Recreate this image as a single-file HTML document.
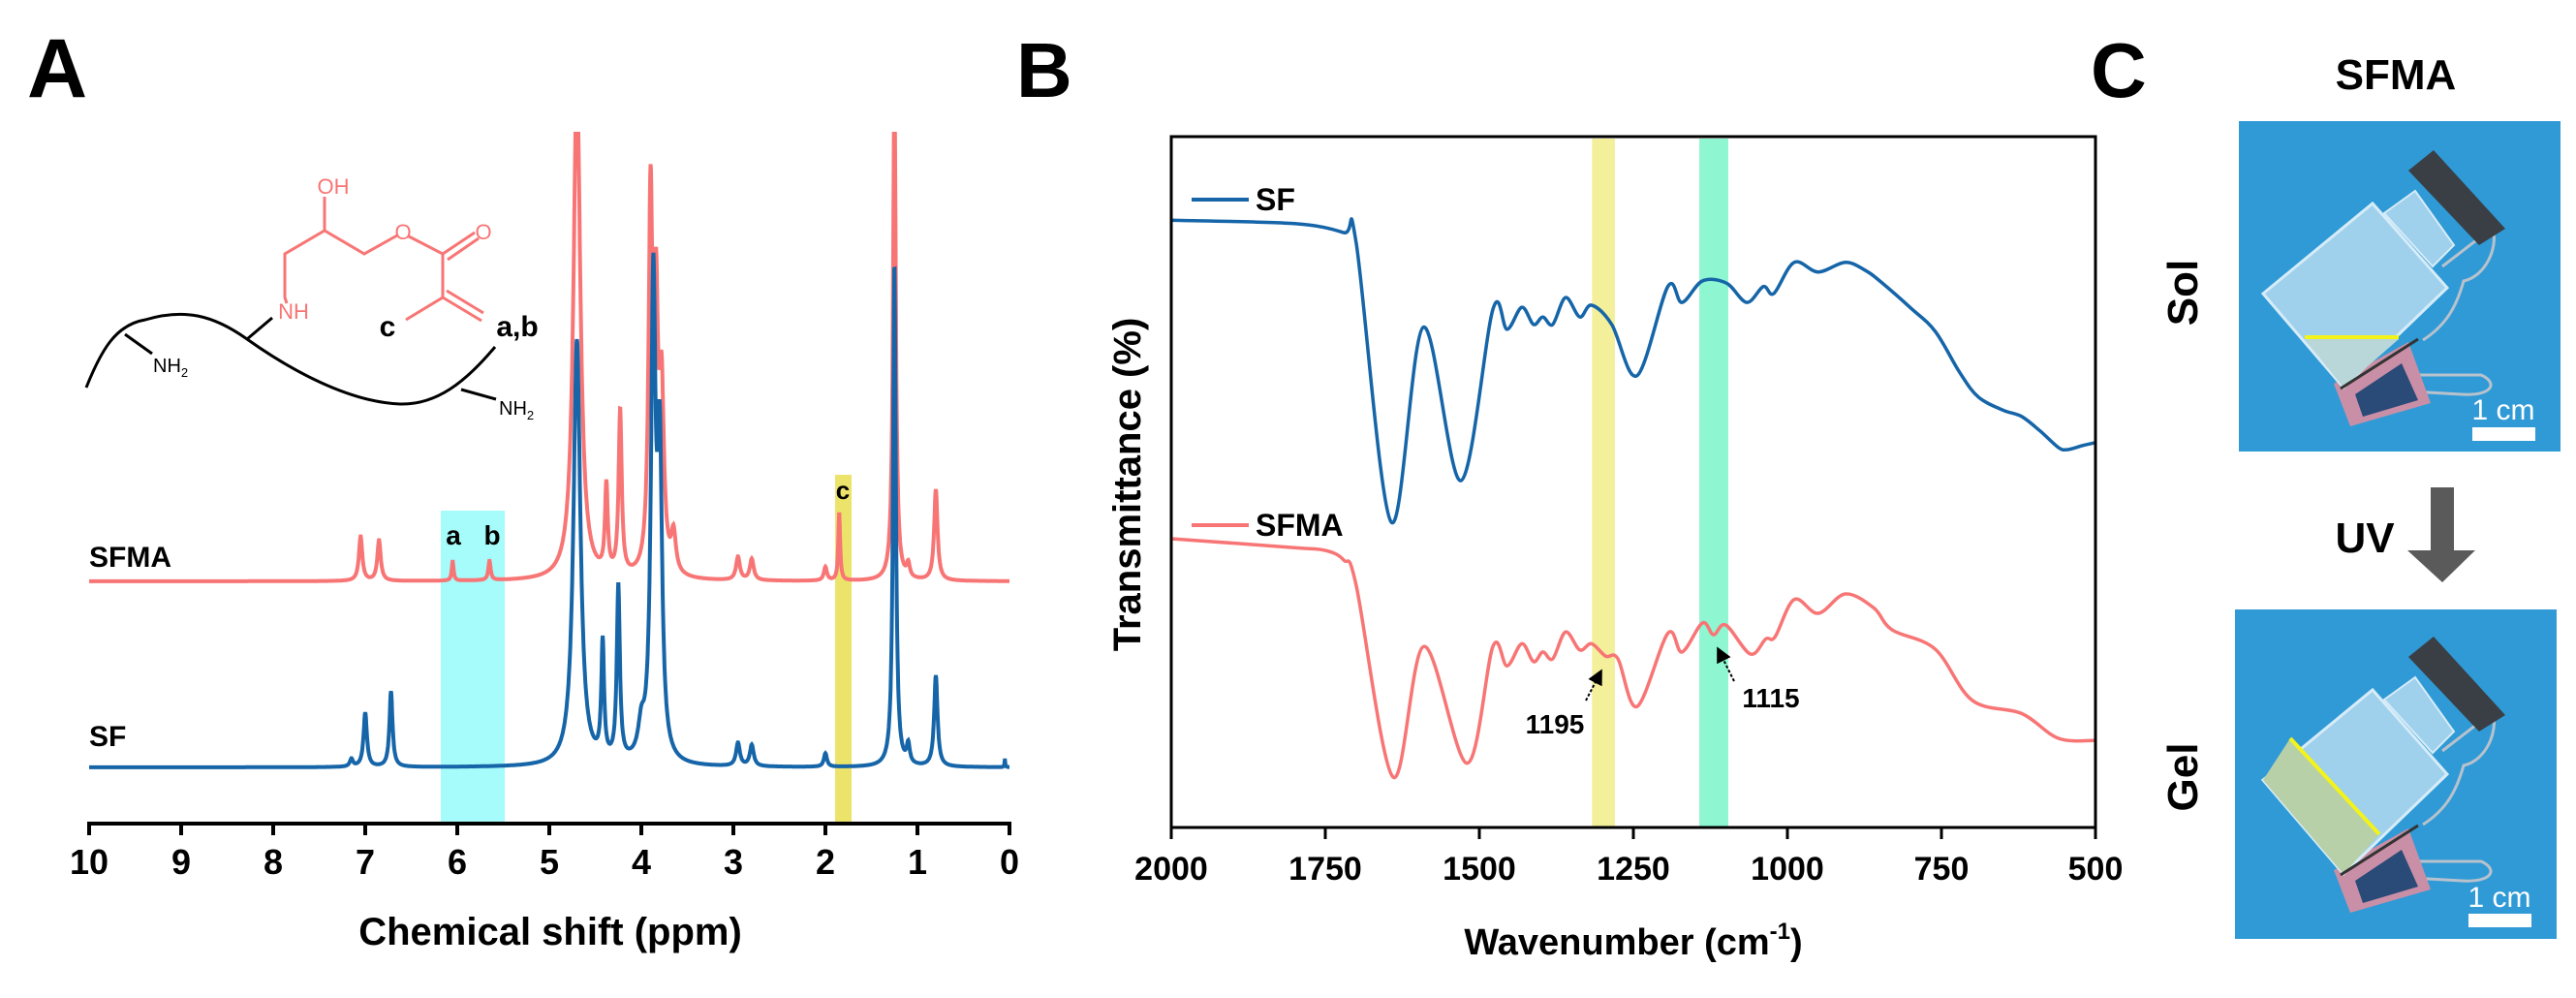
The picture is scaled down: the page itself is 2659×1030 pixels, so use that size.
<!DOCTYPE html>
<html><head><meta charset="utf-8"><style>
html,body{margin:0;padding:0;background:#fff;}
svg{display:block;font-family:"Liberation Sans",Arial,sans-serif;}
.b{font-weight:bold;}
</style></head><body>
<svg id="fig" width="2659" height="1030" viewBox="0 0 2659 1030" xmlns="http://www.w3.org/2000/svg">
<defs>
<clipPath id="clipA"><rect x="40" y="136" width="1020" height="714"/></clipPath>
<clipPath id="clipB"><rect x="1209" y="141" width="954" height="713"/></clipPath>
<clipPath id="ph1"><rect x="0" y="0" width="332" height="341"/></clipPath>
<marker id="ah" markerWidth="8" markerHeight="8" refX="6" refY="4" orient="auto"><path d="M0,0 L8,4 L0,8 z" fill="#000"/></marker>
</defs>

<!-- Panel A -->
<text x="28" y="100" class="b" font-size="86">A</text>
<rect x="455" y="527" width="66" height="323" fill="#a6fbfb"/>
<rect x="862" y="490" width="17" height="360" fill="#ece46a"/>
<g id="nmr" clip-path="url(#clipA)"></g>
<g id="axisA"></g>
<text x="568" y="975" text-anchor="middle" class="b" font-size="40">Chemical shift (ppm)</text>
<text x="92" y="585" class="b" font-size="30">SFMA</text>
<text x="92" y="770" class="b" font-size="30">SF</text>
<text x="468" y="562" text-anchor="middle" class="b" font-size="28">a</text>
<text x="508" y="562" text-anchor="middle" class="b" font-size="28">b</text>
<text x="870" y="515" text-anchor="middle" class="b" font-size="26">c</text>

<!-- structure -->
<g fill="none" stroke-width="3">
<g stroke="#f87575">
<polyline points="296,313 294,307 294,262 335,238 376,262 410,243"/>
<line x1="335" y1="238" x2="335" y2="203"/>
<polyline points="422,244 457,262 457,307 419,330"/>
<line x1="457" y1="262" x2="490" y2="240"/>
<line x1="462" y1="268" x2="494" y2="246"/>
<line x1="457" y1="307" x2="497" y2="331"/>
<line x1="461" y1="300" x2="499" y2="323"/>
</g>
<g stroke="#000">
<path d="M89,400 C105,360 120,335 150,330 C190,318 220,325 255,350 C300,382 360,415 413,417 C450,418 480,395 511,358"/>
<line x1="281" y1="328" x2="255" y2="350"/>
<line x1="129" y1="345" x2="157" y2="365"/>
<line x1="476" y1="402" x2="512" y2="412"/>
</g>
</g>
<g font-size="22" fill="#f87575">
<text x="344" y="200" text-anchor="middle">OH</text>
<text x="416" y="247" text-anchor="middle">O</text>
<text x="499" y="247" text-anchor="middle">O</text>
<text x="303" y="329" text-anchor="middle">NH</text>
</g>
<text x="158" y="384" font-size="20">NH<tspan font-size="13" dy="5">2</tspan></text>
<text x="515" y="428" font-size="20">NH<tspan font-size="13" dy="5">2</tspan></text>
<text x="400" y="347" text-anchor="middle" class="b" font-size="30">c</text>
<text x="534" y="347" text-anchor="middle" class="b" font-size="30">a,b</text>

<!-- Panel B -->
<text x="1049" y="100" class="b" font-size="80">B</text>
<g id="irBands"></g>
<g id="ir" clip-path="url(#clipB)"></g>
<rect x="1209" y="141" width="954" height="713" fill="none" stroke="#000" stroke-width="3"/>
<g id="axisB"></g>
<text x="1686" y="985" text-anchor="middle" class="b" font-size="38">Wavenumber (cm<tspan font-size="24" dy="-16">-1</tspan><tspan dy="16">)</tspan></text>
<text transform="translate(1177,500) rotate(-90)" text-anchor="middle" class="b" font-size="40">Transmittance (%)</text>
<line x1="1230" y1="206" x2="1289" y2="206" stroke="#1565a8" stroke-width="4"/>
<text x="1296" y="217" class="b" font-size="32">SF</text>
<line x1="1230" y1="542" x2="1289" y2="542" stroke="#f87575" stroke-width="4"/>
<text x="1296" y="553" class="b" font-size="32">SFMA</text>
<line x1="1637" y1="723" x2="1652" y2="694" stroke="#000" stroke-width="2" stroke-dasharray="3,2" marker-end="url(#ah)"/>
<text x="1605" y="757" text-anchor="middle" class="b" font-size="28">1195</text>
<line x1="1790" y1="703" x2="1774" y2="671" stroke="#000" stroke-width="2" stroke-dasharray="3,2" marker-end="url(#ah)"/>
<text x="1828" y="730" text-anchor="middle" class="b" font-size="28">1115</text>

<!-- Panel C -->
<text x="2158" y="100" class="b" font-size="80">C</text>
<text x="2473" y="92" text-anchor="middle" class="b" font-size="44">SFMA</text>
<text transform="translate(2268,302) rotate(-90)" text-anchor="middle" class="b" font-size="44">Sol</text>
<text transform="translate(2268,802) rotate(-90)" text-anchor="middle" class="b" font-size="44">Gel</text>
<text x="2441" y="570" text-anchor="middle" class="b" font-size="44">UV</text>
<path d="M2509,503 L2533,503 L2533,568 L2555,568 L2521,601 L2485,568 L2509,568 Z" fill="#5a5a5a"/>

<g transform="translate(2311,125)">
<rect width="332" height="341" fill="#2f9ad6"/>
<g clip-path="url(#ph1)">
<path d="M210,150 L262,110 C268,130 255,160 232,165 C225,190 215,210 190,226" fill="none" stroke="#b8c2cc" stroke-width="3"/>
<path d="M160,278 L230,282 C262,284 268,270 250,262 L185,262" fill="none" stroke="#b8c2cc" stroke-width="3"/>
<polygon points="98,271 175,228 198,291 115,315" fill="#c98fa6"/>
<polygon points="120,282 168,250 185,288 128,305" fill="#2a4a78"/>
<polygon points="25,178 138,85 215,172 108,275" fill="#9fd0ec" stroke="#d6ecf8" stroke-width="3"/>
<polygon points="68,225 165,225 108,275" fill="#b9d6d8"/>
<polygon points="150,95 182,72 222,128 200,150" fill="#9fd0ec" stroke="#d6ecf8" stroke-width="2"/>
<polygon points="175,51 201,30 275,111 248,128" fill="#3a3f45"/>
<line x1="68" y1="223" x2="165" y2="223" stroke="#f3f31a" stroke-width="4"/>
<line x1="105" y1="276" x2="185" y2="225" stroke="#333" stroke-width="3"/>
</g>
<text x="273" y="308" text-anchor="middle" font-size="30" fill="#fff">1 cm</text>
<rect x="241" y="316" width="65" height="14" fill="#fff"/>
</g>

<g transform="translate(2307,629)">
<rect width="332" height="340" fill="#2f9ad6"/>
<g clip-path="url(#ph1)">
<path d="M214,146 L266,106 C272,126 259,156 236,161 C229,186 219,206 194,222" fill="none" stroke="#b8c2cc" stroke-width="3"/>
<path d="M164,276 L234,280 C266,282 272,268 254,260 L189,260" fill="none" stroke="#b8c2cc" stroke-width="3"/>
<polygon points="102,269 179,226 202,289 119,313" fill="#c98fa6"/>
<polygon points="124,280 172,248 189,286 132,303" fill="#2a4a78"/>
<polygon points="29,176 142,83 219,170 112,273" fill="#9fd0ec" stroke="#d6ecf8" stroke-width="3"/>
<polygon points="29,176 57,133 149,232 112,273" fill="#b8d0a8"/>
<polygon points="154,93 186,70 226,126 204,148" fill="#9fd0ec" stroke="#d6ecf8" stroke-width="2"/>
<polygon points="179,49 205,28 279,109 252,126" fill="#3a3f45"/>
<line x1="57" y1="133" x2="149" y2="232" stroke="#f3f31a" stroke-width="4"/>
<line x1="109" y1="274" x2="189" y2="223" stroke="#333" stroke-width="3"/>
</g>
<text x="273" y="307" text-anchor="middle" font-size="30" fill="#fff">1 cm</text>
<rect x="241" y="314" width="65" height="14" fill="#fff"/>
</g>
</svg>
<script>
// ---- Panel A data (1H NMR) ----
const sfPeakPpm    = [7.15, 7.0, 6.72, 4.7, 4.42, 4.25, 4.0, 3.87, 3.8, 2.95, 2.8, 2.0, 1.25, 1.1, 0.8, 0.05];
const sfPeakHeight = [8, 56, 78, 440, 120, 180, 30, 480, 300, 24, 22, 14, 520, 20, 94, 8];
const sfPeakWidth  = [0.02, 0.022, 0.02, 0.045, 0.018, 0.02, 0.04, 0.03, 0.03, 0.025, 0.025, 0.02, 0.018, 0.02, 0.022, 0.005];
const sfmaPeakPpm    = [7.05, 6.85, 6.05, 5.65, 4.7, 4.38, 4.23, 3.9, 3.84, 3.78, 3.65, 2.95, 2.8, 2.0, 1.85, 1.25, 1.1, 0.8];
const sfmaPeakHeight = [46, 42, 20, 20, 520, 90, 170, 380, 250, 180, 40, 24, 22, 14, 70, 520, 14, 94];
const sfmaPeakWidth  = [0.022, 0.022, 0.012, 0.015, 0.045, 0.018, 0.02, 0.025, 0.025, 0.03, 0.03, 0.025, 0.025, 0.02, 0.012, 0.018, 0.02, 0.022];
const ppmTicks = [10, 9, 8, 7, 6, 5, 4, 3, 2, 1, 0];

// ---- Panel B data (FTIR) ----
const sfWave = [2000,1800,1720,1700,1643,1591,1530,1478,1455,1431,1412,1397,1381,1360,1337,1318,1285,1244,1194,1171,1138,1099,1066,1039,1022,989,950,906,873,850,800,760,720,690,650,620,590,560,545,520,500];
const sfTrans = [87.9,87.4,86.1,84.7,44.2,72.4,50.2,75.0,72.1,75.3,72.8,73.9,72.8,76.7,73.9,75.6,72.8,65.4,78.3,76.0,79.1,78.8,76.0,78.3,77.3,81.8,80.4,81.8,80.6,79.1,75.2,71.8,65.8,62.3,60.4,59.5,57.4,55.0,54.7,55.3,55.7];
const sfmaWave = [2000,1800,1750,1720,1700,1640,1590,1520,1478,1455,1431,1412,1397,1381,1360,1337,1318,1295,1275,1244,1194,1171,1138,1120,1100,1060,1035,1020,989,950,906,860,830,760,700,620,560,500];
const sfmaTrans = [41.8,40.5,40.1,38.7,35.1,7.3,26.2,9.3,26.2,23.4,26.6,24.0,25.4,24.4,28.3,25.7,26.6,24.8,24.4,17.5,28.1,25.4,29.6,27.9,29.3,25.1,27.3,27.6,33.0,31.0,33.8,31.8,28.6,25.8,18.4,16.5,12.9,12.6];
const waveTicks = [2000, 1750, 1500, 1250, 1000, 750, 500];
const bandYellow = [1317, 1280];
const bandGreen = [1143, 1096];

const NS = 'http://www.w3.org/2000/svg';
function mk(tag, attrs, parent){const e=document.createElementNS(NS,tag);for(const k in attrs)e.setAttribute(k,attrs[k]);parent.appendChild(e);return e;}

// axis functions
const xA = p => 92 + (10 - p) * 95;
const yA = (v, base) => base - v;
const xB = w => 1209 + (2000 - w) / 1500 * 954;
const yB = t => 854 - t * 7.13;

// NMR spectra
function spectrum(ppm, h, w, base){
  let d='';
  for(let p=10; p>=-0.001; p-=0.004){
    let v=0;
    for(let i=0;i<ppm.length;i++){const g=w[i];v+=h[i]*g*g/((p-ppm[i])*(p-ppm[i])+g*g);}
    d += (d?'L':'M') + xA(p).toFixed(1) + ',' + yA(v, base).toFixed(1);
  }
  return d;
}
const nmr = document.getElementById('nmr');
const pr = mk('path',{d:spectrum(sfmaPeakPpm,sfmaPeakHeight,sfmaPeakWidth,600),fill:'none',stroke:'#f87575','stroke-width':4},nmr);


const pb = mk('path',{d:spectrum(sfPeakPpm,sfPeakHeight,sfPeakWidth,792),fill:'none',stroke:'#1565a8','stroke-width':4},nmr);



const axA = document.getElementById('axisA');
mk('line',{x1:xA(10)-2,y1:850,x2:xA(0)+2,y2:850,stroke:'#000','stroke-width':4},axA);
ppmTicks.forEach(t=>{
  const tk = mk('line',{x1:xA(t),y1:850,x2:xA(t),y2:862,stroke:'#000','stroke-width':4},axA);
  
  
  const lb = mk('text',{x:xA(t),y:902,'text-anchor':'middle','font-size':36,'font-weight':'bold'},axA);
  lb.textContent = t;
  
  
});

// IR bands
const bands = document.getElementById('irBands');
const by = mk('rect',{x:xB(bandYellow[0]),y:143,width:xB(bandYellow[1])-xB(bandYellow[0]),height:710,fill:'#f3ef9a'},bands);


const bg = mk('rect',{x:xB(bandGreen[0]),y:143,width:xB(bandGreen[1])-xB(bandGreen[0]),height:710,fill:'#8ef7d2'},bands);



function smooth(ws, ts){
  const P = ws.map((w,i)=>[xB(w), yB(ts[i])]);
  let d = 'M'+P[0][0]+','+P[0][1];
  for(let i=0;i<P.length-1;i++){
    const p0=P[Math.max(0,i-1)],p1=P[i],p2=P[i+1],p3=P[Math.min(P.length-1,i+2)];
    const c1=[p1[0]+(p2[0]-p0[0])/6,p1[1]+(p2[1]-p0[1])/6];
    const c2=[p2[0]-(p3[0]-p1[0])/6,p2[1]-(p3[1]-p1[1])/6];
    d+='C'+c1[0].toFixed(1)+','+c1[1].toFixed(1)+' '+c2[0].toFixed(1)+','+c2[1].toFixed(1)+' '+p2[0].toFixed(1)+','+p2[1].toFixed(1);
  }
  return d;
}
const ir = document.getElementById('ir');
const ib = mk('path',{d:smooth(sfWave,sfTrans),fill:'none',stroke:'#1565a8','stroke-width':3.5},ir);


const irr = mk('path',{d:smooth(sfmaWave,sfmaTrans),fill:'none',stroke:'#f87575','stroke-width':3.5},ir);



const axB = document.getElementById('axisB');
waveTicks.forEach(t=>{
  const tk = mk('line',{x1:xB(t),y1:854,x2:xB(t),y2:866,stroke:'#000','stroke-width':3},axB);
  
  
  const lb = mk('text',{x:xB(t),y:908,'text-anchor':'middle','font-size':34,'font-weight':'bold'},axB);
  lb.textContent = t;
  
  
});
</script>
</body></html>
